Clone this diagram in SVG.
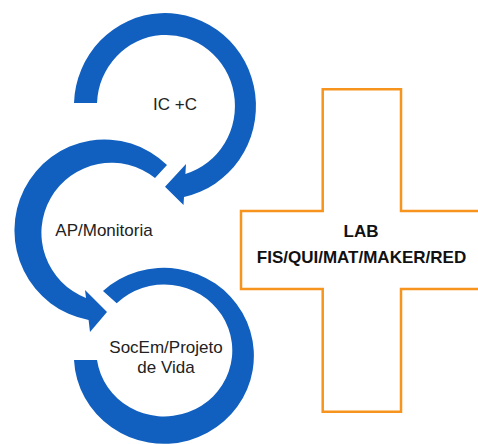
<svg xmlns="http://www.w3.org/2000/svg" width="478" height="444" viewBox="0 0 478 444">
<style>
.arc{fill:#1160C0;stroke:none}
.lbl{font-family:"Liberation Sans",Arial,sans-serif;font-size:17px;fill:#222;text-anchor:middle}
.bold{font-weight:bold;fill:#111}
.plus{fill:#fff;stroke:#F7941E;stroke-width:2.5;stroke-linejoin:miter}
</style>
<rect width="478" height="444" fill="#fff"/>
<g id="node-ic">
<path class="arc" d="M74,103 A91,93 0 1 1 184,197 L183.5,205 L165,186.7 L186,164 L185.4,174 A69,71 0 1 0 97,103 Z"/>
<text class="lbl" x="175" y="110">IC +C</text>
</g>
<g id="node-ap">
<path class="arc" d="M167,165 A90,91 0 1 0 88.6,320 L90,332 L107,312 L85,290 L86,298 A70,70 0 1 1 155,178 Z"/>
<text class="lbl" x="104" y="236">AP/Monitoria</text>
</g>
<g id="node-socem">
<path class="arc" d="M103,291 A90,88 0 1 1 74,360 L97,360 A68,66 0 1 0 116.7,303.3 Z"/>
<text class="lbl" x="166" y="353">SocEm/Projeto</text>
<text class="lbl" x="166" y="372.5">de Vida</text>
</g>
<g id="node-lab">
<path class="plus" d="M322.7,89.3 H401 V211 H483 V289 H401 V411.7 H322.7 V289 H241 V211 H322.7 Z"/>
<text class="lbl bold" x="361" y="237">LAB</text>
<text class="lbl bold" x="361.5" y="262.5">FIS/QUI/MAT/MAKER/RED</text>
</g>
<g id="connectors"></g>
</svg>
